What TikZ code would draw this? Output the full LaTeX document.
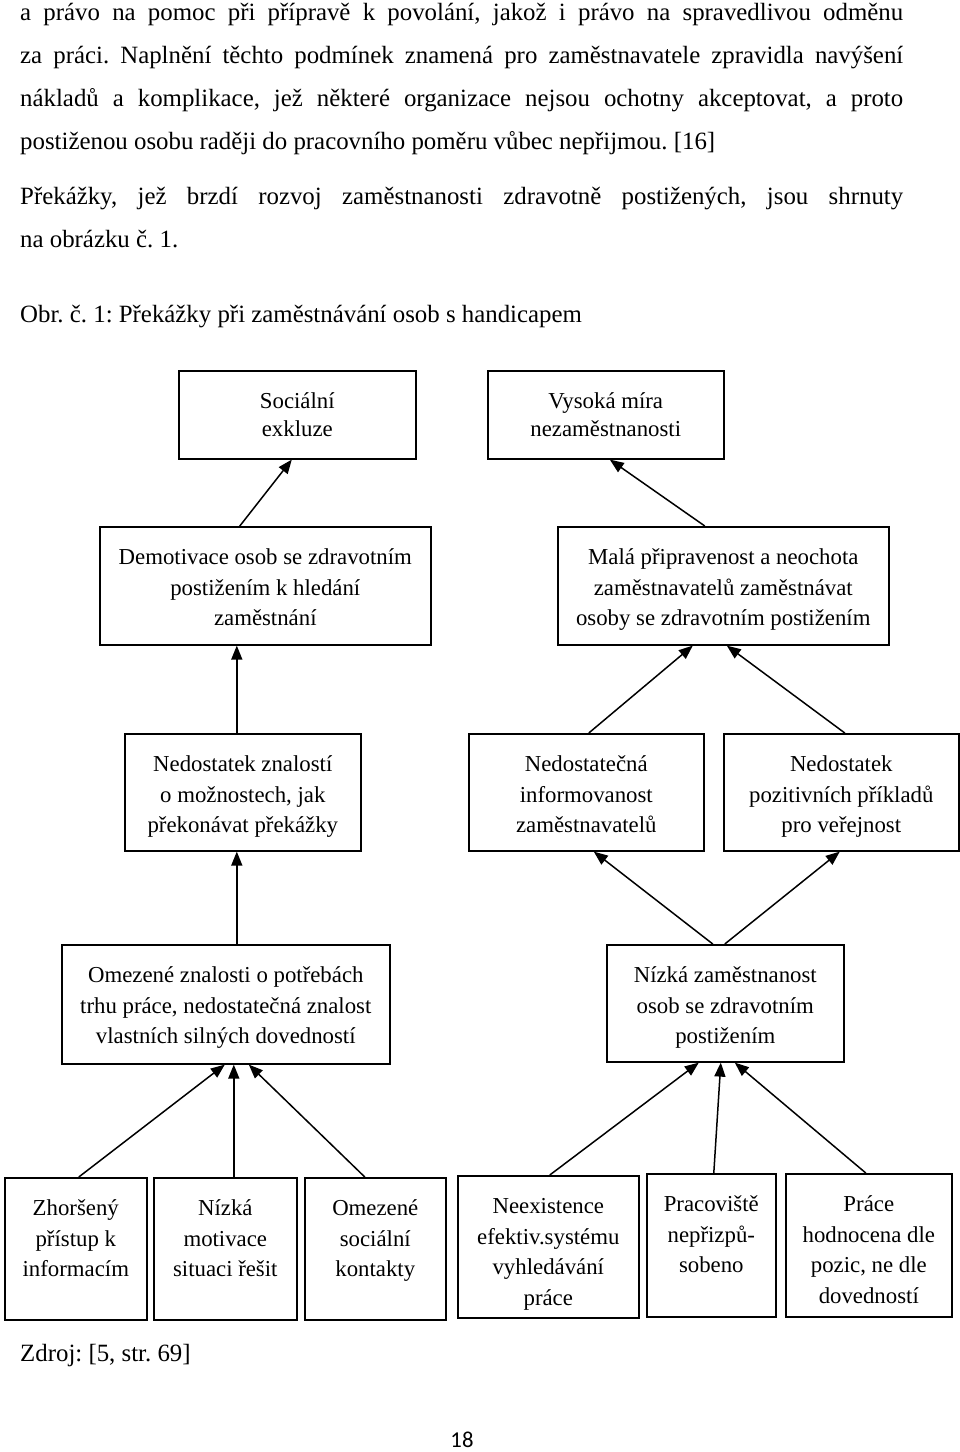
\documentclass[tikz,border=0pt]{standalone}
\usepackage{fontspec}
\setmainfont{Liberation Serif}
\newfontfamily\pagefont{Carlito}
\usetikzlibrary{arrows.meta}
\frenchspacing

\newcommand{\bodysize}{\fontsize{24.85pt}{43pt}\selectfont}
\newcommand{\boxsize}{\fontsize{22.8pt}{30.5pt}\selectfont}
\newcommand{\boxtxt}[3]{\parbox[c][#2pt][t]{#1pt}{\centering\boxsize\rule{0pt}{38pt}#3}}

\tikzset{
  txt/.style={anchor=base west, inner sep=0pt, font=\bodysize},
  box/.style={draw, line width=1.6pt, inner sep=0pt, anchor=north west},
  arr/.style={-{Triangle[length=14pt,width=11pt]}, line width=1.5pt}
}

\begin{document}
\begin{tikzpicture}[x=1pt,y=-1pt]
        \useasboundingbox[fill=white] (0,0) rectangle (960,1452);

        % body text
        \node[txt] (l1) at (20,20) {\makebox[883pt][s]{a právo na pomoc při přípravě k povolání, jakož i právo na spravedlivou odměnu}};
        \node[txt] (l2) at (20,63) {\makebox[883pt][s]{za práci. Naplnění těchto podmínek znamená pro zaměstnavatele zpravidla navýšení}};
        \node[txt] (l3) at (20,106) {\makebox[883pt][s]{nákladů a komplikace, jež některé organizace nejsou ochotny akceptovat, a proto}};
        \node[txt] (l4) at (20,149) {postiženou osobu raději do pracovního poměru vůbec nepřijmou. [16]};
        \node[txt] (l5) at (20,204) {\makebox[883pt][s]{Překážky, jež brzdí rozvoj zaměstnanosti zdravotně postižených, jsou shrnuty}};
        \node[txt] (l6) at (20,247) {na obrázku č. 1.};
        \node[txt] (cap) at (20,322) {Obr. č. 1: Překážky při zaměstnávání osob s handicapem};

        % boxes
        \node[box] (soc) at (178,370) {\boxtxt{237}{88}{Sociální\\[-2.5pt] exkluze}};
        \node[box] (vys) at (487,370) {\boxtxt{236}{88}{Vysoká míra\\[-2.5pt] nezaměstnanosti}};
        \node[box] (dem) at (99,526) {\boxtxt{331}{118}{Demotivace osob se zdravotním\\ postižením k hledání\\ zaměstnání}};
        \node[box] (mala) at (557,526) {\boxtxt{331}{118}{Malá připravenost a neochota\\ zaměstnavatelů zaměstnávat\\ osoby se zdravotním postižením}};
        \node[box] (nzn) at (124,733) {\boxtxt{236}{117}{Nedostatek znalostí\\ o možnostech, jak\\ překonávat překážky}};
        \node[box] (ninf) at (468,733) {\boxtxt{235}{117}{Nedostatečná\\ informovanost\\ zaměstnavatelů}};
        \node[box] (npoz) at (723,733) {\boxtxt{235}{117}{Nedostatek\\ pozitivních příkladů\\ pro veřejnost}};
        \node[box] (omz) at (61,944) {\boxtxt{328}{119}{Omezené znalosti o potřebách\\ trhu práce, nedostatečná znalost\\ vlastních silných dovedností}};
        \node[box] (nizka) at (606,944) {\boxtxt{237}{117}{Nízká zaměstnanost\\ osob se zdravotním\\ postižením}};
        \node[box] (b1) at (4,1177) {\boxtxt{142}{142}{Zhoršený\\ přístup k\\ informacím}};
        \node[box] (b2) at (153,1177) {\boxtxt{143}{142}{Nízká\\ motivace\\ situaci řešit}};
        \node[box] (b3) at (304,1177) {\boxtxt{141}{142}{Omezené\\ sociální\\ kontakty}};
        \node[box] (b4) at (457,1175) {\boxtxt{181}{142}{Neexistence\\ efektiv.systému\\ vyhledávání\\ práce}};
        \node[box] (b5) at (646,1173) {\boxtxt{129}{143}{Pracoviště\\ nepřizpů-\\ sobeno}};
        \node[box] (b6) at (785,1173) {\boxtxt{166}{143}{Práce\\ hodnocena dle\\ pozic, ne dle\\ dovedností}};

        % arrows
        \draw[arr] ([xshift=-25.5pt]dem.north) -- ([xshift=-5.5pt]soc.south);
        \draw[arr] ([xshift=-18.5pt]mala.north) -- ([xshift=4pt]vys.south);
        \draw[arr] ([xshift=-6pt]nzn.north) -- ([xshift=-28.5pt]dem.south);
        \draw[arr] ([xshift=2.5pt]ninf.north) -- ([xshift=-30.5pt]mala.south);
        \draw[arr] ([xshift=3.5pt]npoz.north) -- ([xshift=3.5pt]mala.south);
        \draw[arr] ([xshift=11pt]omz.north) -- ([xshift=-6pt]nzn.south);
        \draw[arr] ([xshift=-12.5pt]nizka.north) -- ([xshift=7.5pt]ninf.south);
        \draw[arr] ([xshift=-0.5pt]nizka.north) -- ([xshift=-1.5pt]npoz.south);
        \draw[arr] ([xshift=3pt]b1.north) -- ([xshift=-1pt]omz.south);
        \draw[arr] ([xshift=8.5pt]b2.north) -- ([xshift=8pt]omz.south);
        \draw[arr] ([xshift=-10.5pt]b3.north) -- ([xshift=23pt]omz.south);
        \draw[arr] ([xshift=1.5pt]b4.north) -- ([xshift=-26.5pt]nizka.south);
        \draw[arr] ([xshift=2.5pt]b5.north) -- ([xshift=-4.5pt]nizka.south);
        \draw[arr] ([xshift=-3pt]b6.north) -- ([xshift=9.5pt]nizka.south);

        \node[txt] (src) at (20,1361) {Zdroj: [5, str. 69]};
        \node[anchor=base, inner sep=0pt, font=\pagefont\fontsize{22.7pt}{26pt}\selectfont] (pg) at (462,1447) {18};
    \end{tikzpicture}
\end{document}
